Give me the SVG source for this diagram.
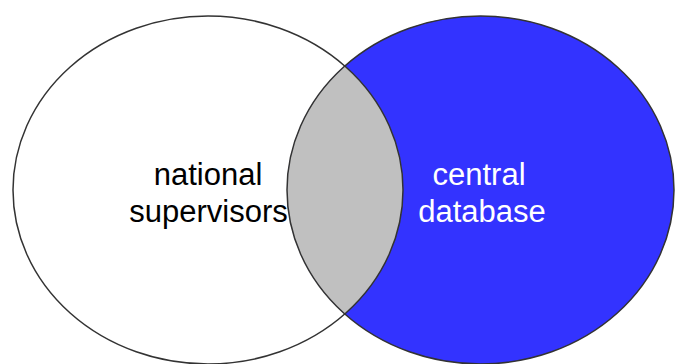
<svg xmlns="http://www.w3.org/2000/svg" width="675" height="364" viewBox="0 0 675 364">
<style>
.lbl{font-family:"Liberation Sans",Arial,sans-serif;font-size:31px;text-anchor:middle}
.outline{fill:none;stroke:#333;stroke-width:1.5}
</style>
<defs>
<clipPath id="clipLeft"><ellipse cx="208" cy="190" rx="195" ry="174"/></clipPath>
</defs>
<rect width="675" height="364" fill="#ffffff"/>
<g id="national-supervisors">
<ellipse cx="208" cy="190" rx="195" ry="174" fill="#ffffff"/>
</g>
<g id="central-database">
<ellipse cx="480.5" cy="190" rx="193.5" ry="174" fill="#3333ff"/>
</g>
<g id="overlap">
<ellipse cx="480.5" cy="190" rx="193.5" ry="174" fill="#c0c0c0" clip-path="url(#clipLeft)"/>
</g>
<g id="outlines">
<ellipse class="outline" cx="208" cy="190" rx="195" ry="174"/>
<ellipse class="outline" cx="480.5" cy="190" rx="193.5" ry="174" stroke="#1a1a66"/>
</g>
<g id="labels">
<text class="lbl" x="208" y="185" fill="#000">national</text>
<text class="lbl" x="208.5" y="222" fill="#000">supervisors</text>
<text class="lbl" x="479" y="185" fill="#fff">central</text>
<text class="lbl" x="482" y="222" fill="#fff">database</text>
</g>
</svg>
